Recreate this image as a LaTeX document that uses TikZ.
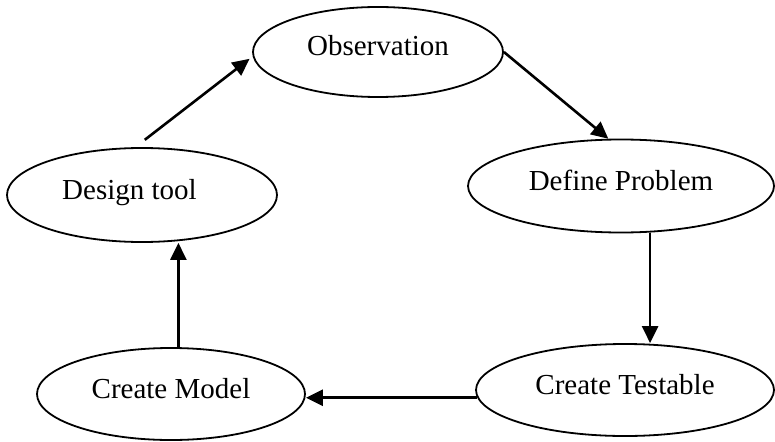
\documentclass[tikz,border=0pt]{standalone}
\usepackage{fontspec}
\setmainfont{Liberation Serif}
\usetikzlibrary{arrows.meta,shapes.geometric}
\begin{document}
\begin{tikzpicture}[x=1pt,y=-1pt,
  txt/.style={font=\fontsize{29}{34}\selectfont, text height=19pt, text depth=11pt},
  el/.style={ellipse, draw, line width=1.8pt, inner sep=0pt, txt},
  lbl/.style={inner sep=0pt, txt},
  arr/.style={line width=2.6pt, -{Triangle[length=17pt,width=16pt]}}]
\useasboundingbox (0,0) rectangle (775,441);
\node[el, minimum width=250pt, minimum height=90pt] (obs) at (378,52) {Observation};
\node[el, minimum width=306pt, minimum height=93pt] (dp) at (621,186) {Define Problem};
\node[el, minimum width=270pt, minimum height=94pt] (dt) at (142,195) {};
\node[lbl] (dtl) at (129.5,195) {Design tool};
\node[el, minimum width=298pt, minimum height=92pt] (ct) at (625,390) {Create Testable};
\node[el, minimum width=268pt, minimum height=92pt] (cm) at (171,394) {Create Model};
\draw[arr, shorten <=12pt, shorten >=4pt] (dt.98) -- (obs.182);
\draw[arr] (obs.east) -- (dp.105);
\draw[arr] (dp.-58) -- (dp.-58 |- ct.north);
\draw[arr] (ct.183) -- (ct.183 -| cm.east);
\draw[arr] (cm.81) -- (cm.81 |- dt.south);
\end{tikzpicture}
\end{document}
